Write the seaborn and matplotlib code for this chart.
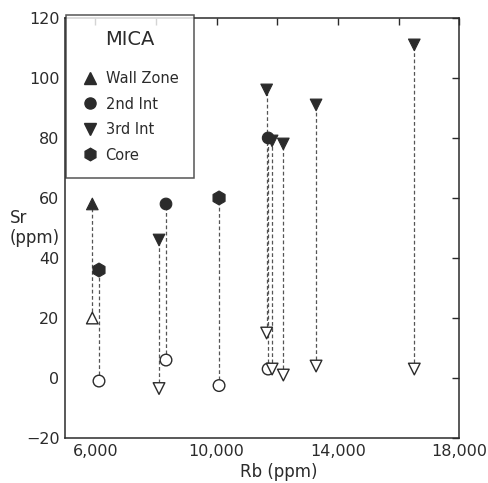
import matplotlib
matplotlib.use("Agg")
import matplotlib.pyplot as plt
import seaborn as sns
import pandas as pd
from matplotlib.lines import Line2D

# Data
group = ["Wall Zone", "Core", "3rd Int", "2nd Int", "Core", "3rd Int",
         "2nd Int", "3rd Int", "3rd Int", "3rd Int", "3rd Int"]
rb = [5900, 6120, 8100, 8330, 10080, 11650, 11700, 11830, 12200, 13280, 16520]
sr_high = [58, 36, 46, 58, 60, 96, 80, 79, 78, 91, 111]
sr_low = [20, -1, -3.5, 6, -2.5, 15, 3, 3, 1, 4, 3]

order = ["Wall Zone", "2nd Int", "3rd Int", "Core"]
markers = {"Wall Zone": "^", "2nd Int": "o", "3rd Int": "v", "Core": "h"}
open_markers = {"Wall Zone": "^", "2nd Int": "o", "3rd Int": "v", "Core": "o"}
x_ticks = [6000, 8000, 10000, 12000, 14000, 16000, 18000]
x_ticklabels = ["6,000", "", "10,000", "", "14,000", "", "18,000"]
y_ticks = [-20, 0, 20, 40, 60, 80, 100, 120]

df = pd.DataFrame({"group": group, "rb": rb, "high": sr_high, "low": sr_low})

sns.set_style("white")
plt.rcParams["font.family"] = ["DejaVu Sans"]
ink = "#2b2b2b"

fig = plt.figure(figsize=(4.89, 4.83), dpi=100)
ax = fig.add_axes([0.133, 0.093, 0.806, 0.870])

ax.vlines(df["rb"], df["low"], df["high"], colors="#555555", linestyles=(0, (3, 2)),
          linewidth=0.9, zorder=1)

size_map = {"Wall Zone": 70, "2nd Int": 70, "3rd Int": 70, "Core": 100}
sns.scatterplot(data=df, x="rb", y="high", style="group", style_order=order,
                markers=markers, size="group", sizes=size_map, color=ink,
                edgecolor=ink, linewidth=0.8, legend=False, ax=ax, zorder=3)
sns.scatterplot(data=df, x="rb", y="low", style="group", style_order=order,
                markers=open_markers, color="white", s=70, edgecolor=ink,
                linewidth=1.0, legend=False, ax=ax, zorder=3)

ax.set_xlim(5000, 18000)
ax.set_ylim(-20, 120)
ax.set_xticks(x_ticks)
ax.set_xticklabels(x_ticklabels)
ax.set_yticks(y_ticks)
ax.tick_params(direction="in", length=5, width=1, colors=ink, labelsize=11.5,
               top=True, right=True, labeltop=False, labelright=False, pad=4)
for sp in ax.spines.values():
    sp.set_color(ink)
    sp.set_linewidth(1.1)

ax.set_xlabel("Rb (ppm)", fontsize=12, color=ink, labelpad=1)
ax.xaxis.set_label_coords((279 - 65) / 394, -0.06)
ax.set_ylabel("")
fig.text(0.02, 0.528, "Sr\n(ppm)", ha="left", va="center", fontsize=12,
         color=ink, linespacing=1.15)

handles = [Line2D([], [], linestyle="none", marker=markers[g],
                  markersize=9 if g == "Core" else 8,
                  markerfacecolor=ink, markeredgecolor=ink) for g in order]
leg = ax.legend(handles, order, title="MICA", loc="upper left",
                bbox_to_anchor=(0.003, 1.008), frameon=True, fancybox=False,
                edgecolor=ink, fontsize=10.5, title_fontsize=14,
                handletextpad=0.55, labelspacing=0.72, borderpad=1.05,
                handlelength=1.1, borderaxespad=0)
leg.get_frame().set_linewidth(1.1)
leg.get_title().set_color(ink)
leg._legend_box.sep = 16
for t in leg.get_texts():
    t.set_color(ink)

fig.savefig("out.png", dpi=100)
